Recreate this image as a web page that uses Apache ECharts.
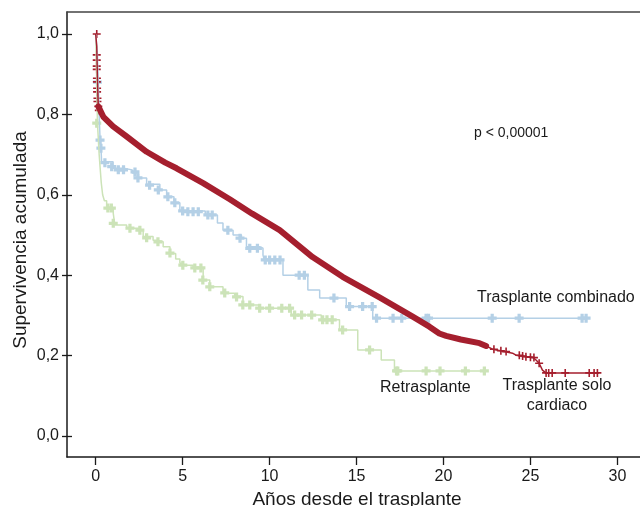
<!DOCTYPE html>
<html>

<head>
    <meta charset="utf-8">
    <script src="https://cdn.jsdelivr.net/npm/echarts@6/dist/echarts.min.js"></script>
    <style>
        body { margin: 0; background: #fff; }
        #chart { width: 640px; height: 506px; }
    </style>
</head>

<body>
    <div id="chart"></div>
</body>

<script type="text/javascript">
    // tick values
    var xTicks = [0, 5, 10, 15, 20, 25, 30];
    var yTicks = [0, 0.2, 0.4, 0.6, 0.8, 1.0];

    // Trasplante solo cardiaco: [years, survival]
    var redCurve = [
        [0, 1], [0.06, 0.97], [0.08, 0.93], [0.1, 0.89], [0.12, 0.86], [0.15, 0.82],
        [0.44, 0.794], [1.0, 0.77], [1.78, 0.745], [2.93, 0.707], [4.0, 0.68], [4.65, 0.666],
        [6.18, 0.629], [7.71, 0.589], [9.0, 0.553], [10.58, 0.512], [12.47, 0.445],
        [14.2, 0.396], [16.32, 0.345], [18.23, 0.297], [19.19, 0.272], [19.76, 0.255],
        [20.15, 0.249], [21.0, 0.24], [22.07, 0.231], [22.45, 0.224], [22.82, 0.216],
        [23.5, 0.21], [23.97, 0.206], [24.17, 0.201], [24.74, 0.197], [25.12, 0.196],
        [25.32, 0.189], [25.5, 0.181], [25.69, 0.164], [25.89, 0.157], [28.94, 0.157]
    ];
    var redMarks = [
        [0.06, 1.0], [0.06, 0.948], [0.06, 0.935], [0.06, 0.92], [0.06, 0.912], [0.07, 0.89],
        [0.07, 0.881], [0.08, 0.865], [0.08, 0.856], [0.1, 0.84], [0.1, 0.832], [0.15, 0.82],
        [0.18, 0.81], [22.9, 0.216], [23.3, 0.212], [23.6, 0.21], [24.36, 0.201], [24.55, 0.199],
        [24.74, 0.197], [25.0, 0.196], [25.2, 0.195], [25.5, 0.181], [25.9, 0.157], [26.05, 0.157],
        [26.25, 0.157], [27.0, 0.157], [28.38, 0.157], [28.66, 0.157], [28.85, 0.157]
    ];

    // Trasplante combinado
    var blueCurve = [
        [0, 1], [0.1, 0.95], [0.15, 0.88], [0.2, 0.8], [0.25, 0.74], [0.3, 0.72], [0.34, 0.682],
        [1.0, 0.666], [1.6, 0.662], [2.1, 0.654], [2.45, 0.642], [2.93, 0.626], [3.69, 0.612],
        [4.08, 0.595], [4.5, 0.58], [4.84, 0.56], [6.3, 0.55], [7.0, 0.53], [7.32, 0.512],
        [7.9, 0.5], [8.38, 0.492], [8.67, 0.471], [9.43, 0.467], [9.62, 0.45], [9.7, 0.438],
        [10.77, 0.4], [12.2, 0.363], [12.88, 0.343], [14.41, 0.322], [15.93, 0.293], [28.2, 0.293]
    ];
    var blueMarks = [
        [0.1, 0.88], [0.25, 0.736], [0.3, 0.716], [0.53, 0.68], [0.92, 0.67], [1.3, 0.662],
        [1.6, 0.662], [2.26, 0.657], [2.43, 0.642], [3.1, 0.624], [3.6, 0.612], [4.15, 0.595],
        [4.55, 0.58], [5.0, 0.56], [5.3, 0.558], [5.6, 0.558], [5.9, 0.558], [6.45, 0.55],
        [6.7, 0.55], [7.6, 0.512], [8.3, 0.492], [8.86, 0.467], [9.3, 0.467], [9.75, 0.438],
        [10.0, 0.438], [10.3, 0.438], [10.6, 0.438], [11.7, 0.4], [12.0, 0.4], [13.7, 0.343],
        [14.6, 0.322], [15.35, 0.322], [15.9, 0.322], [16.15, 0.293], [17.1, 0.293], [17.6, 0.293],
        [19.0, 0.293], [19.14, 0.293], [22.8, 0.293], [24.35, 0.293], [27.97, 0.293], [28.2, 0.293]
    ];

    // Retrasplante
    var greenCurve = [
        [0, 1], [0.05, 0.9], [0.1, 0.78], [0.15, 0.74], [0.2, 0.7], [0.25, 0.67], [0.32, 0.63],
        [0.4, 0.6], [0.5, 0.585], [0.63, 0.566], [1.01, 0.554], [1.1, 0.525], [1.78, 0.517],
        [2.5, 0.512], [2.73, 0.496], [3.3, 0.487], [3.5, 0.483], [3.88, 0.471], [4.27, 0.454],
        [4.6, 0.44], [4.84, 0.43], [5.03, 0.425], [5.6, 0.417], [6.18, 0.388], [6.56, 0.371],
        [7.32, 0.355], [7.99, 0.347], [8.47, 0.326], [9.43, 0.318], [11.25, 0.301], [12.97, 0.289],
        [14.02, 0.264], [15.07, 0.214], [16.42, 0.189], [17.18, 0.162], [22.45, 0.162]
    ];
    var greenMarks = [
        [0.06, 0.778], [0.7, 0.567], [0.9, 0.567], [1.01, 0.529], [1.97, 0.517], [2.54, 0.512],
        [2.93, 0.493], [3.58, 0.483], [4.27, 0.455], [5.01, 0.425], [5.7, 0.418], [6.05, 0.418],
        [6.16, 0.388], [6.56, 0.371], [7.42, 0.356], [8.1, 0.346], [8.46, 0.326], [8.86, 0.326],
        [9.43, 0.318], [10.0, 0.318], [10.7, 0.318], [11.15, 0.318], [11.44, 0.301], [11.84, 0.301],
        [12.42, 0.301], [13.05, 0.289], [13.3, 0.289], [13.6, 0.289], [14.2, 0.264], [15.75, 0.214],
        [17.3, 0.162], [17.37, 0.162], [19.0, 0.162], [19.8, 0.162], [21.26, 0.162], [22.35, 0.162]
    ];

    var RED = '#a51f2e';
    var BLUE = '#b4d0e6';
    var GREEN = '#cce3b8';
    var thinPlus = 'path://M4,0h2v10h-2zM0,4h10v2h-10z';
    var thickPlus = 'path://M3.2,0h3.6v10h-3.6zM0,3.2h10v3.6h-10z';
    var FONT = '"Liberation Sans", Arial, sans-serif';

    var redBand = redCurve.filter(function (p) { return p[0] >= 0.15 && p[0] <= 22.5; });

    var fmt = function (v) { return v.toFixed(1).replace('.', ','); };

    option = {
        animation: false,
        backgroundColor: '#fff',
        grid: { left: 67, top: 12, right: -1, bottom: 49 },
        xAxis: [
            {
                type: 'value',
                min: -1.65,
                max: 31.3,
                position: 'bottom',
                splitLine: { show: false },
                axisLine: { onZero: false, lineStyle: { color: '#1a1a1a', width: 1.5 } },
                axisTick: { customValues: xTicks, length: 8, lineStyle: { color: '#1a1a1a', width: 1.3 } },
                axisLabel: { customValues: xTicks, margin: 12, fontSize: 16, color: '#1a1a1a', fontFamily: FONT }
            },
            {
                type: 'value',
                min: -1.65,
                max: 31.3,
                position: 'top',
                splitLine: { show: false },
                axisLine: { onZero: false, lineStyle: { color: '#444', width: 1.5 } },
                axisTick: { show: false },
                axisLabel: { show: false }
            }
        ],
        yAxis: [
            {
                type: 'value',
                min: -0.0522,
                max: 1.0547,
                position: 'left',
                offset: 0,
                splitLine: { show: false },
                axisLine: { show: true, onZero: false, lineStyle: { color: '#1a1a1a', width: 1.5 } },
                axisTick: { show: true, customValues: yTicks, length: 5, lineStyle: { color: '#1a1a1a', width: 1.3 } },
                axisLabel: { customValues: yTicks, margin: 8, fontSize: 16, color: '#1a1a1a', fontFamily: FONT, formatter: fmt }
            },
            {
                // inner half of the crossing ticks
                type: 'value',
                min: -0.0522,
                max: 1.0547,
                position: 'left',
                offset: -5,
                splitLine: { show: false },
                axisLine: { show: false, onZero: false },
                axisTick: { show: true, customValues: yTicks, length: 5, lineStyle: { color: '#1a1a1a', width: 1.3 } },
                axisLabel: { show: false }
            }
        ],
        graphic: [
            { type: 'text', x: 474, y: 133, style: { text: 'p < 0,00001', fontSize: 14, fontFamily: FONT, fill: '#1a1a1a', verticalAlign: 'middle' } },
            { type: 'text', x: 477, y: 298, style: { text: 'Trasplante combinado', fontSize: 16, fontFamily: FONT, fill: '#1a1a1a', verticalAlign: 'middle' } },
            { type: 'text', x: 380, y: 388, style: { text: 'Retrasplante', fontSize: 16, fontFamily: FONT, fill: '#1a1a1a', verticalAlign: 'middle' } },
            { type: 'text', x: 557, y: 386, style: { text: 'Trasplante solo', fontSize: 16, fontFamily: FONT, fill: '#1a1a1a', align: 'center', verticalAlign: 'middle' } },
            { type: 'text', x: 557, y: 406, style: { text: 'cardiaco', fontSize: 16, fontFamily: FONT, fill: '#1a1a1a', align: 'center', verticalAlign: 'middle' } },
            { type: 'text', x: 357, y: 500, style: { text: 'Años desde el trasplante', fontSize: 19, fontFamily: FONT, fill: '#1a1a1a', align: 'center', verticalAlign: 'middle' } },
            { type: 'text', x: 21, y: 240, rotation: Math.PI / 2, style: { text: 'Supervivencia acumulada', fontSize: 19, fontFamily: FONT, fill: '#1a1a1a', align: 'center', verticalAlign: 'middle' } }
        ],
        series: [
            {
                name: 'Retrasplante', type: 'line', step: 'end', showSymbol: false,
                lineStyle: { color: GREEN, width: 1.5 }, data: greenCurve
            },
            {
                name: 'RetrasplanteCens', type: 'scatter', symbol: thickPlus, symbolSize: 9,
                itemStyle: { color: GREEN, opacity: 1 }, data: greenMarks
            },
            {
                name: 'Trasplante combinado', type: 'line', step: 'end', showSymbol: false,
                lineStyle: { color: BLUE, width: 1.5 }, data: blueCurve
            },
            {
                name: 'CombinadoCens', type: 'scatter', symbol: thickPlus, symbolSize: 9,
                itemStyle: { color: BLUE, opacity: 1 }, data: blueMarks
            },
            {
                name: 'Trasplante solo cardiaco', type: 'line', showSymbol: false,
                lineStyle: { color: RED, width: 1.5 }, data: redCurve
            },
            {
                name: 'CardiacoBand', type: 'line', showSymbol: false,
                lineStyle: { color: RED, width: 6, cap: 'round', join: 'round' }, data: redBand
            },
            {
                name: 'CardiacoCens', type: 'scatter', symbol: thinPlus, symbolSize: 8,
                itemStyle: { color: RED, opacity: 1 }, data: redMarks
            }
        ]
    };

    var chart = echarts.init(document.getElementById('chart'));
    chart.setOption(option);
</script>

</html>
